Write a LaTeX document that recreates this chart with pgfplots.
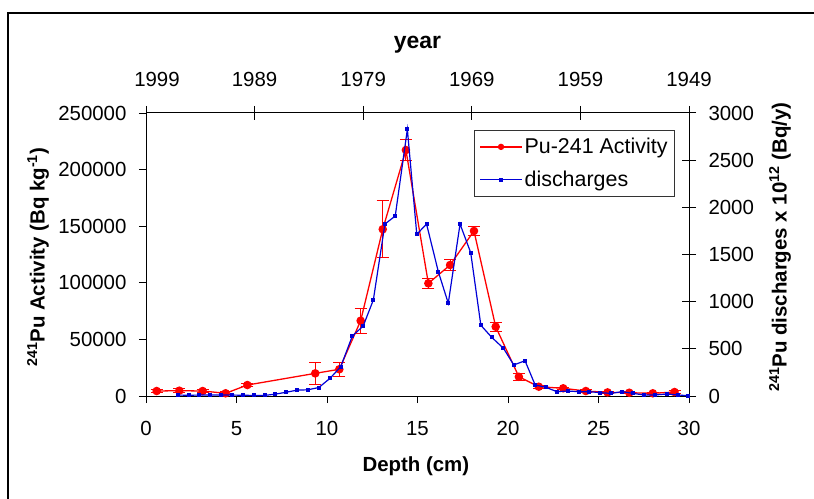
\documentclass[border=0pt]{standalone}
\usepackage{pgfplots}
\pgfplotsset{compat=1.18}
\usepackage{pgfplotstable}
\usepackage{fontspec}
\setmainfont{Liberation Sans}

\definecolor{actred}{RGB}{255,0,0}
\definecolor{disblue}{RGB}{0,0,215}

% 241Pu activity in the core, with measurement uncertainty
\pgfplotstableread{
depth act err
0.59  4400   1500
1.84  4700   1500
3.13  4400   1500
4.40  2400   1500
5.60  9700   1500
9.35  20000  9400
10.68 23600  6000
11.86 66500  11000
13.08 147300 25000
14.36 217300 9500
15.60 99500  4500
16.80 115700 5000
18.12 145800 4000
19.32 61200  4000
20.60 17000  3000
21.70 8200   1500
23.05 6800   1000
24.30 4400   1000
25.50 3200   1000
26.70 2900   1000
28.00 2400   1000
29.20 3500   1000
}\activity

% 241Pu discharges (x 10^12 Bq/y), year converted to depth
\pgfplotstableread{
depth dis
1.75  10
2.35  8
2.95  10
3.55  10
4.15  10
4.75  10
5.35  8
5.95  6
6.55  6
7.15  20
7.75  40
8.35  62
8.95  66
9.55  90
10.17 188
10.76 311
11.40 636
12.00 742
12.56 1018
13.20 1823
13.77 1908
14.44 2827
14.96 1714
15.50 1823
16.15 1318
16.70 983
17.35 1823
17.94 1519
18.50 750
19.10 622
19.75 506
20.32 329
20.94 374
21.50 117
22.10 92
22.70 46
23.30 53
23.90 46
24.50 46
25.10 35
25.70 28
26.30 46
26.90 28
27.50 11
28.10 11
28.80 21
29.40 11
29.95 3
}\discharges

\begin{document}
\begin{tikzpicture}[font=\fontsize{20.5}{24}\selectfont]
\pgfplotsset{
  common/.style={
    scale only axis, width=543bp, height=283bp,
    at={(0,0)}, anchor=south west,
    xmin=0, xmax=30,
    axis line style={black, line width=1pt},
    tick style={black, line width=1pt},
    major tick length=7bp,
    tick label style={font=\fontsize{20.5}{24}\selectfont},
    scaled ticks=false,
    clip=false,
    legend image code/.code={%
      \draw[mark repeat=2, mark phase=2, ##1] plot coordinates {(0bp,0bp) (21bp,0bp) (42bp,0bp)};},
  },
  numbers/.style={
    /pgf/number format/.cd, fixed, precision=0,
    assume math mode=true, set thousands separator={},
  },
}

% left and bottom axes: activity against depth
\begin{axis}[common, numbers,
  axis x line*=bottom, axis y line*=left,
  ymin=0, ymax=250000,
  xtick={0,5,...,30}, ytick={0,50000,...,250000},
  tick align=outside,
  xticklabel style={yshift=-15bp},
  yticklabel style={xshift=-9bp},
  xlabel={\textbf{Depth (cm)}},
  ylabel={\textbf{\textsuperscript{241}Pu Activity (Bq kg\textsuperscript{-1})}},
  every axis x label/.style={at={(axis description cs:0.497,-0.247)}, anchor=center},
  every axis y label/.style={at={(axis description cs:-0.199,0.49)}, anchor=center, rotate=90},
]
\addplot[actred, line width=1.3pt, mark=*, mark size=3.6bp,
  error bars/.cd, y dir=both, y explicit,
  error bar style={line width=1pt, actred},
  error mark options={rotate=90, mark size=6bp, line width=1pt, actred}]
  table[x=depth, y=act, y error=err] {\activity};
\end{axis}

% right axis: discharges
\begin{axis}[common, numbers,
  hide x axis, axis y line*=right,
  ymin=0, ymax=3000, ytick={0,500,...,3000},
  tick align=center, major tick length=14bp,
  yticklabel style={xshift=9bp},
  ylabel={\textbf{\textsuperscript{241}Pu discharges x 10\textsuperscript{12} (Bq/y)}},
  every axis y label/.style={at={(axis description cs:1.1676,0.526)}, anchor=center, rotate=90},
  legend style={at={(axis description cs:0.604,0.94)}, anchor=north west,
    draw=black!80, line width=0.8pt, fill=white,
    font=\fontsize{21.5}{25}\selectfont, row sep=12bp,
    inner xsep=5bp, inner ysep=6bp},
  legend cell align=left,
]
\addlegendimage{actred, line width=1.3pt, mark=*, mark size=2.5bp}
\addlegendentry{Pu-241 Activity}
\addplot[disblue, line width=1.2pt, mark=square*, mark size=1.4bp]
  table[x=depth, y=dis] {\discharges};
\addlegendentry{discharges}
\end{axis}

% top axis: year of deposition
\begin{axis}[common,
  hide y axis, axis x line*=top,
  ymin=0, ymax=1, ytick=\empty,
  xtick={0,6,...,30},
  xticklabels={\hspace*{22bp}1999,1989,1979,1969,1959,1949},
  xticklabel style={yshift=16bp},
  tick align=center, major tick length=14bp,
  xlabel={\fontsize{23}{26}\selectfont\textbf{year}},
  every axis x label/.style={at={(axis description cs:0.5,1.24)}, anchor=center},
]
\end{axis}

% frame round the figure
\draw[line width=2.5bp] (-138bp,-110bp) -- (-138bp,383bp) -- (680bp,383bp);
\pgfresetboundingbox
\useasboundingbox (-146bp,-103bp) rectangle (668bp,396bp);
\end{tikzpicture}
\end{document}
